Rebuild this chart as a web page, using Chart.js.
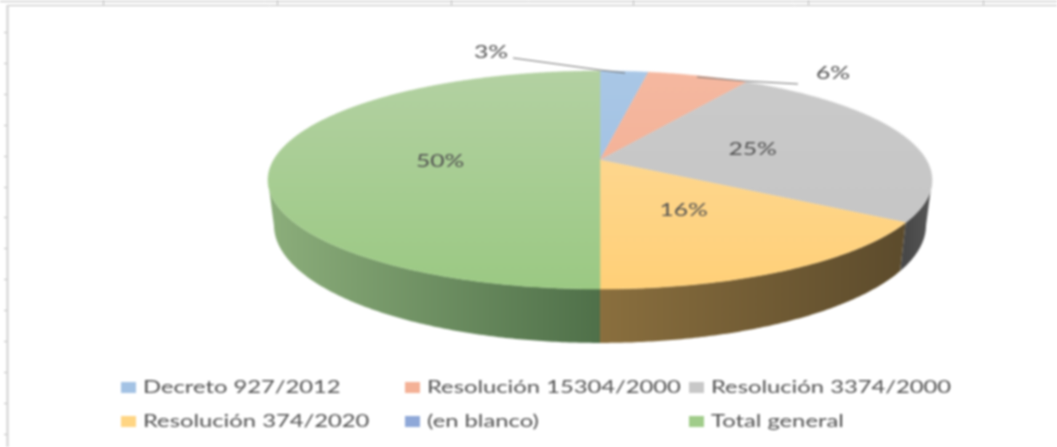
<!DOCTYPE html>
<html>
<head>
<meta charset="utf-8">
<style>
  html, body { margin: 0; padding: 0; background: #fff; }
  canvas { display: block; filter: blur(0.8px); }
</style>
<script src="https://cdn.jsdelivr.net/npm/chart.js@4"></script>
</head>
<body>
<canvas id="chart" width="1057" height="447"></canvas>
<script>
var categories = ['Decreto 927/2012', 'Resolución 15304/2000', 'Resolución 3374/2000', 'Resolución 374/2020', '(en blanco)', 'Total general'];
var values = [2.8, 5.9, 25.3, 16, 0, 50];

var swatchColors = ['#a3c2e4', '#f4b196', '#c8c8c8', '#ffd583', '#8fa8d8', '#a0cc8a'];
var topColors = ['#a9c7e6', '#f5b8a0', '#cacaca', '#fedb9c', '#8fa8d8', '#b3d1a2'];
var bottomColors = ['#9dbde0', '#f2ab8e', '#c4c4c4', '#ffd078', '#8fa8d8', '#9bc983'];
// wall shade: colour at the left and right end of each visible slice
var wallLeft = ['#6a84a0', '#a87a66', '#484848', '#8a6f3e', '#5d6f90', '#8cae7b'];
var wallRight = ['#6a84a0', '#a87a66', '#565656', '#5c4b2c', '#5d6f90', '#4f7049'];

// text positions for the two small slices, and their leader lines
var outsideLabels = { 0: [491, 51], 1: [833, 72] };
var leaders = [
    [[513, 58], [600, 70], [625, 73]],
    [[697, 77], [745, 81], [798, 84]]
];

var legendCols = [121, 405, 689];
var legendRows = [387, 421];

// the disc is tilted, so the near half comes out bigger than the far half
var tilt = 0.1835;
var topDisc = { d: 326.4, a: 76, b: 160 };
var bottomDisc = { d: 320.5, a: 76.7, b: 203.3 };

function project(disc, cx, cos, sin) {
    var den = 1 - tilt * sin;
    return [cx + disc.d * cos / den, (disc.a * sin + disc.b) / den];
}

function wideText(ctx, str, x, y, sx) {
    ctx.save();
    ctx.translate(x, y);
    ctx.scale(sx, 1);
    ctx.fillText(str, 0, 0);
    ctx.restore();
}

var sheetLines = {
    id: 'sheetLines',
    beforeDraw: function (chart) {
        var ctx = chart.ctx;
        ctx.save();
        ctx.strokeStyle = '#bcbcbc';
        ctx.lineWidth = 1;
        ctx.beginPath();
        ctx.moveTo(0, 1.5); ctx.lineTo(1057, 1.5);
        ctx.moveTo(7, 5.5); ctx.lineTo(1057, 5.5);
        [103, 277, 451, 633, 808, 983].forEach(function (x) {
            ctx.moveTo(x + 0.5, 0); ctx.lineTo(x + 0.5, 5);
        });
        for (var y = 32; y < 447; y += 30.9) {
            ctx.moveTo(4, Math.round(y) + 0.5); ctx.lineTo(7, Math.round(y) + 0.5);
        }
        ctx.stroke();
        ctx.strokeStyle = '#d0d0d0';
        ctx.lineWidth = 2;
        ctx.beginPath();
        ctx.moveTo(7.5, 5); ctx.lineTo(7.5, 447);
        ctx.stroke();
        ctx.restore();
    }
};

var tiltedPie = {
    id: 'tiltedPie',
    beforeDatasetDraw: function (chart, args) {
        var ctx = chart.ctx;
        var arcs = chart.getDatasetMeta(args.index).data;
        var cx = arcs[0].x;
        var step = Math.PI / 360;
        ctx.save();

        // side wall, only the part that faces us
        arcs.forEach(function (arc, i) {
            var rim = [];
            for (var t = arc.startAngle; t < arc.endAngle + step; t += step) {
                var a = Math.min(t, arc.endAngle);
                if (Math.sin(a) >= tilt) rim.push(a);
            }
            if (rim.length < 2) return;
            var upper = rim.map(function (a) { return project(topDisc, cx, Math.cos(a), Math.sin(a)); });
            var lower = rim.map(function (a) { return project(bottomDisc, cx, Math.cos(a), Math.sin(a)); });
            var xs = upper.map(function (p) { return p[0]; });
            var g = ctx.createLinearGradient(Math.min.apply(null, xs), 0, Math.max.apply(null, xs), 0);
            g.addColorStop(0, wallLeft[i]);
            g.addColorStop(1, wallRight[i]);
            ctx.fillStyle = g;
            ctx.beginPath();
            upper.forEach(function (p, k) {
                if (k === 0) ctx.moveTo(p[0], p[1]); else ctx.lineTo(p[0], p[1]);
            });
            lower.reverse().forEach(function (p) { ctx.lineTo(p[0], p[1]); });
            ctx.closePath();
            ctx.fill();
        });

        // top face
        arcs.forEach(function (arc, i) {
            if (arc.endAngle - arc.startAngle < step) return;
            var g = ctx.createLinearGradient(0, 71, 0, 289);
            g.addColorStop(0, topColors[i]);
            g.addColorStop(1, bottomColors[i]);
            ctx.fillStyle = g;
            ctx.strokeStyle = g;
            ctx.lineWidth = 0.5;
            ctx.beginPath();
            var c = project(topDisc, cx, 0, 0);
            ctx.moveTo(c[0], c[1]);
            for (var t = arc.startAngle; t < arc.endAngle; t += step) {
                var p = project(topDisc, cx, Math.cos(t), Math.sin(t));
                ctx.lineTo(p[0], p[1]);
            }
            var e = project(topDisc, cx, Math.cos(arc.endAngle), Math.sin(arc.endAngle));
            ctx.lineTo(e[0], e[1]);
            ctx.closePath();
            ctx.fill();
            ctx.stroke();
        });
        ctx.restore();
        return false;
    },
    afterDatasetsDraw: function (chart) {
        var ctx = chart.ctx;
        var arcs = chart.getDatasetMeta(0).data;
        var total = values.reduce(function (s, v) { return s + v; }, 0);
        ctx.save();

        ctx.strokeStyle = '#707070';
        ctx.lineWidth = 1;
        leaders.forEach(function (pts) {
            ctx.beginPath();
            pts.forEach(function (p, k) {
                if (k === 0) ctx.moveTo(p[0], p[1]); else ctx.lineTo(p[0], p[1]);
            });
            ctx.stroke();
        });

        ctx.font = '18px Lato';
        ctx.fillStyle = '#505050';
        ctx.textAlign = 'center';
        ctx.textBaseline = 'middle';
        arcs.forEach(function (arc, i) {
            if (values[i] === 0) return;
            var mid = (arc.startAngle + arc.endAngle) / 2;
            var p = outsideLabels[i] || project(topDisc, arc.x, 0.49 * Math.cos(mid), 0.49 * Math.sin(mid));
            wideText(ctx, Math.round(values[i] / total * 100) + '%', p[0], p[1] + 1, 1.37);
        });

        // legend, laid out in fixed columns
        ctx.textAlign = 'left';
        categories.forEach(function (name, i) {
            var x = legendCols[i % 3];
            var y = legendRows[Math.floor(i / 3)];
            ctx.fillStyle = swatchColors[i];
            ctx.fillRect(x, y - 5, 15, 11);
            ctx.fillStyle = '#505050';
            wideText(ctx, name, x + 22, y, 1.32);
        });
        ctx.restore();
    }
};

new Chart(document.getElementById('chart'), {
    type: 'pie',
    data: {
        labels: categories,
        datasets: [{ data: values, backgroundColor: swatchColors, borderWidth: 0 }]
    },
    options: {
        responsive: false,
        animation: false,
        layout: { padding: { left: 143, bottom: 127 } },
        plugins: {
            legend: { display: false },
            tooltip: { enabled: false }
        }
    },
    plugins: [sheetLines, tiltedPie]
});
</script>
</body>
</html>
